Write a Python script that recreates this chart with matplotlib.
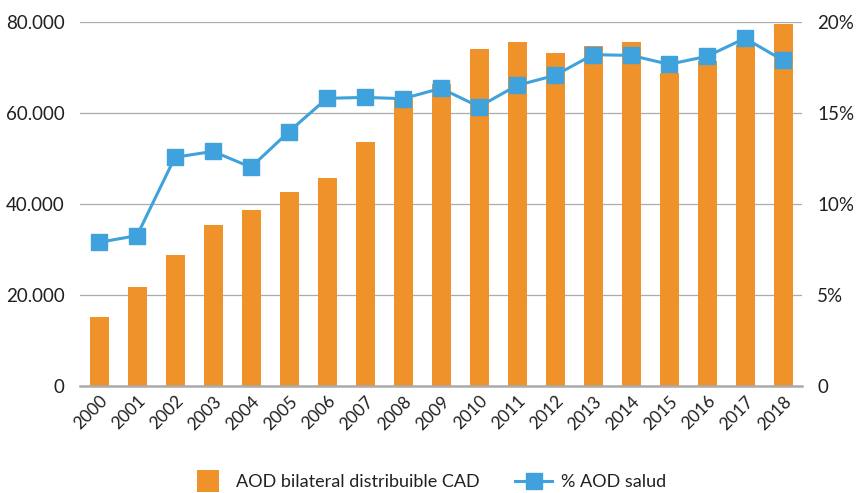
import matplotlib
matplotlib.use("Agg")
import matplotlib.pyplot as plt
from matplotlib.ticker import FuncFormatter, FixedLocator
from matplotlib.legend_handler import HandlerPatch, update_from_first_child
from matplotlib.patches import Rectangle
from matplotlib.container import BarContainer

plt.rcParams['font.family'] = ['Lato', 'DejaVu Sans']

years = [str(y) for y in range(2000, 2019)]
aod_bilateral = [15200, 21800, 28800, 35400, 38700, 42700, 45800, 53700, 63300,
                 66500, 74100, 75700, 73200, 74800, 75700, 68800, 71500, 75000, 79600]
pct_salud = [7.90, 8.27, 12.58, 12.90, 12.03, 13.99, 15.82, 15.87, 15.80,
             16.37, 15.36, 16.53, 17.08, 18.22, 18.18, 17.69, 18.13, 19.12, 17.91]

orange = '#F0922A'
blue = '#40A2DC'
grid = '#ABABAB'
txt = '#231F20'

fig = plt.figure(figsize=(8.56, 4.93), dpi=100)
ax = fig.add_axes([80/856, 1-386/493, (802-80)/856, (386-22.3)/493])
x = list(range(len(years)))
ax.bar(x, aod_bilateral, width=0.5, color=orange, zorder=2,
       label='AOD bilateral distribuible CAD')
ax.set_xlim(-0.5, len(years)-0.5)
ax.set_ylim(0, 80000)
ax.yaxis.set_major_locator(FixedLocator([0, 20000, 40000, 60000, 80000]))
ax.yaxis.set_major_formatter(FuncFormatter(lambda v, p: f"{int(v):,}".replace(',', '.')))
ax.grid(axis='y', color=grid, linewidth=0.9, zorder=0)
ax.set_axisbelow(True)
for s in ['top', 'left', 'right']:
    ax.spines[s].set_visible(False)
ax.spines['bottom'].set_color(grid)
ax.spines['bottom'].set_linewidth(1.8)
ax.tick_params(axis='both', length=0, labelsize=13.5, colors=txt, pad=11)
ax.set_xticks(x)
ax.set_xticklabels(years, rotation=45, ha='right', va='top', rotation_mode='anchor', fontsize=12.5)
ax.tick_params(axis='x', pad=5)

ax2 = ax.twinx()
ax2.plot(x, pct_salud, color=blue, linewidth=2.2, marker='s', markersize=12,
         zorder=3, label='% AOD salud')
ax2.set_ylim(0, 20)
ax2.yaxis.set_major_locator(FixedLocator([0, 5, 10, 15, 20]))
ax2.yaxis.set_major_formatter(FuncFormatter(lambda v, p: '0' if v == 0 else f"{int(v)}%"))
for s in ['top', 'left', 'right', 'bottom']:
    ax2.spines[s].set_visible(False)
ax2.tick_params(axis='y', length=0, labelsize=13.5, colors=txt, pad=11)


def square_patch(legend, orig_handle, xdescent, ydescent, width, height, fontsize):
    s = 16.0
    return Rectangle((-xdescent + (width - s) / 2, -ydescent + height / 2 - s / 2), s, s)


h1, l1 = ax.get_legend_handles_labels()
h2, l2 = ax2.get_legend_handles_labels()
fig.legend(h1 + h2, l1 + l2, loc='center', bbox_to_anchor=(0.5, 1-482/493), ncol=2,
           frameon=False, fontsize=13, handlelength=2.05, columnspacing=2.0,
           handletextpad=0.5, labelcolor=txt, markerscale=0.95,
           handler_map={BarContainer: HandlerPatch(patch_func=square_patch,
                                                   update_func=update_from_first_child)})

fig.savefig('out.png', dpi=100)
